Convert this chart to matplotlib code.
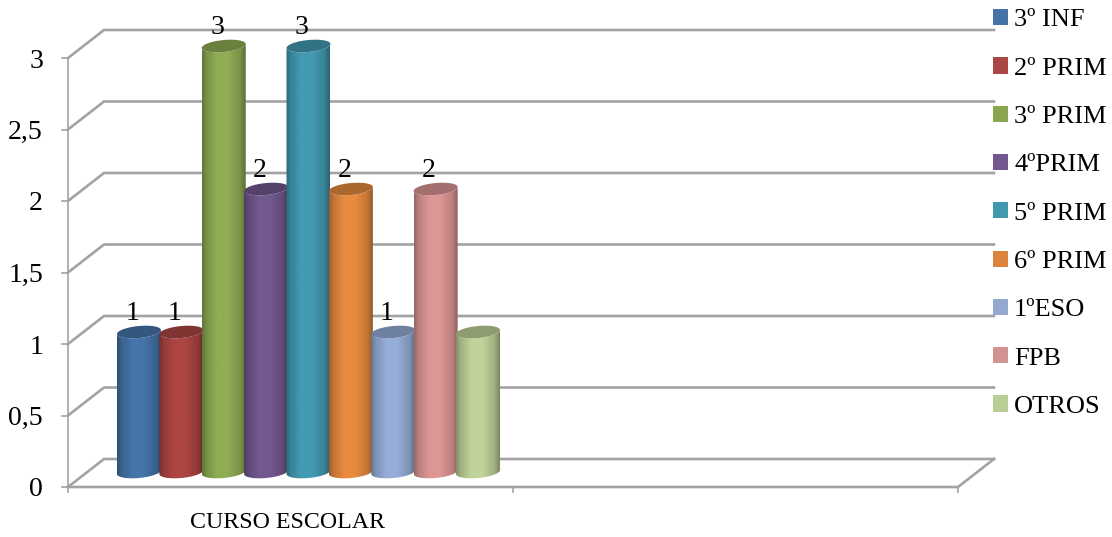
"""
plot.py - 3D-looking cylinder column chart (one group, nine courses), drawn on a flat axes.
"""

import numpy as np
import matplotlib
matplotlib.use("Agg")
import matplotlib.pyplot as plt
from matplotlib.colors import to_rgb
from matplotlib.patches import Patch, Polygon

# ---------------------------------------------------------------------------
# Data
# ---------------------------------------------------------------------------
courses = ["3º INF", "2º PRIM", "3º PRIM", "4ºPRIM", "5º PRIM",
           "6º PRIM", "1ºESO", "FPB", "OTROS"]
counts = [1, 1, 3, 2, 3, 2, 1, 2, 1]
count_labels = ["1", "1", "3", "2", "3", "2", "1", "2", ""]  # OTROS has no label
group_label = "CURSO ESCOLAR"
y_ticks = [0, 0.5, 1, 1.5, 2, 2.5, 3]
y_tick_labels = ["0", "0,5", "1", "1,5", "2", "2,5", "3"]

# ---------------------------------------------------------------------------
# Style
# ---------------------------------------------------------------------------
COLORS = ["#4575AB", "#AD4643", "#8FAD55", "#72598F", "#429BB3",
          "#E88B3F", "#95ADD8", "#DC9796", "#C0D498"]
LEGEND_COLORS = ["#4572A7", "#AA4643", "#89A54E", "#71588F", "#4198AF",
                 "#DB843D", "#93A9CF", "#D19392", "#B9CD96"]
GRID = "#A3A3A3"
FONT = "Liberation Serif"
FS_TICK = 20
FS_LEGEND = 19
FS_GROUP = 17.2

# axis geometry: one category is 445 px wide, one value unit is 143 px high
W, H = 1112, 537
X0, Y0 = 68, 487
PX = 1 / 445
PY = 1 / 143
DEPTH_X = 36 * PX
DEPTH_Y = 28 * PY


def draw_walls(ax):
    """Back wall, side wall and floor lines."""
    for v in y_ticks:
        ax.plot([0, DEPTH_X, 2 + DEPTH_X], [v, v + DEPTH_Y, v + DEPTH_Y],
                color=GRID, lw=1.9, solid_joinstyle="miter", zorder=1)
        ax.plot([-6 * PX, 0], [v, v], color=GRID, lw=1.2, zorder=1)
    ax.plot([0, 0], [y_ticks[0] - 5 * PY, y_ticks[-1]], color=GRID, lw=1.2, zorder=1)
    ax.plot([0, 2, 2 + DEPTH_X], [0, 0, DEPTH_Y], color=GRID, lw=1.9,
            solid_joinstyle="miter", zorder=1)
    for x in [1, 2]:
        ax.plot([x, x], [-5 * PY, 0], color=GRID, lw=1.2, zorder=1)


def ellipse_arc(cx, cy, start, stop, a, b, n=40):
    """Points of a slightly tilted ellipse, in data coordinates."""
    t = np.linspace(start, stop, n)
    dx = a * np.cos(t)
    dy = b * np.sin(t) + 0.09 * dx
    return np.column_stack([cx + dx * PX, cy + dy * PY])


def draw_cylinder(ax, cx, value, label, color, zorder):
    """One column: shaded body clipped to its outline, darker lid on top."""
    a, b = 22, 6
    bottom = 15 * PY
    top = value + 12 * PY
    rgb = np.array(to_rgb(color))

    pos = np.linspace(0, 1, 64)
    shade = np.interp(pos, [0, 0.1, 0.35, 0.6, 0.88, 1], [0.68, 0.84, 1, 1, 0.84, 0.64])
    img = np.clip(shade[None, :, None] * rgb[None, None, :], 0, 1)

    outline = np.vstack([ellipse_arc(cx, bottom, np.pi, 2 * np.pi, a, b),
                         ellipse_arc(cx, top, 0, np.pi, a, -b)])
    clip = Polygon(outline, closed=True, transform=ax.transData)
    im = ax.imshow(img, extent=[cx - a * PX, cx + a * PX, bottom - 10 * PY, top + 10 * PY],
                   aspect="auto", interpolation="bilinear", zorder=zorder)
    im.set_clip_path(clip)

    lid = ellipse_arc(cx, top, 0, 2 * np.pi, a, b)
    ax.add_patch(Polygon(lid, closed=True, facecolor=rgb * 0.74, edgecolor="none", zorder=zorder))

    # value label sits a little left of the column axis
    ax.text(cx - 6.5 * PX, top + 22 * PY, label, family=FONT, fontsize=FS_TICK,
            ha="center", va="center_baseline", color="black", zorder=20)


def main():
    fig = plt.figure(figsize=(W / 100, H / 100), dpi=100)
    ax = fig.add_axes([0, 0, 1, 1])
    xlim = (-X0 * PX, (W - X0) * PX)
    ylim = ((Y0 - H) * PY, Y0 * PY)
    ax.axis("off")

    draw_walls(ax)

    # Columns, gap of 1.5 column widths in the category
    step = 1 / (len(courses) + 1.5)
    for i, (value, label, color) in enumerate(zip(counts, count_labels, COLORS)):
        cx = 0.5 + (i - (len(courses) - 1) / 2) * step + 18 * PX
        draw_cylinder(ax, cx, value, label, color, zorder=5 + i)

    ax.set_xlim(*xlim)
    ax.set_ylim(*ylim)

    # Tick labels
    for v, label in zip(y_ticks, y_tick_labels):
        ax.text(-25 * PX, v, label, family=FONT, fontsize=FS_TICK, ha="right", va="center_baseline")
    ax.text(0.5 - 3 * PX, -35 * PY, group_label, family=FONT, fontsize=FS_GROUP, ha="center", va="center")

    # Legend
    handles = [Patch(facecolor=c, edgecolor="none", label=n)
               for c, n in zip(LEGEND_COLORS, courses)]
    ax.legend(handles=handles, loc="upper left", bbox_to_anchor=(993 / W, 1 - 9 / H),
              bbox_transform=fig.transFigure, frameon=False, borderpad=0, borderaxespad=0,
              prop={"family": FONT, "size": FS_LEGEND}, handlelength=0.57, handleheight=0.57,
              handletextpad=0.23, labelspacing=0.98)

    fig.savefig("out.png", dpi=100)
    plt.close(fig)


if __name__ == "__main__":
    main()
